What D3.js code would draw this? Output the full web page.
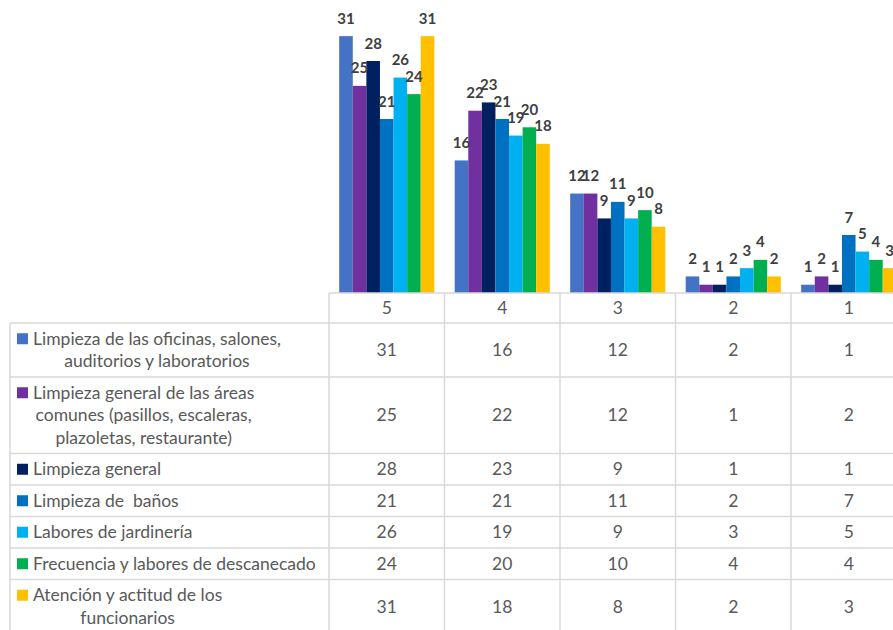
<!DOCTYPE html>
<html>
<head>
<meta charset="utf-8">
<script src="https://cdn.jsdelivr.net/npm/d3@7"></script>
<style>
  body { margin: 0; background: #fff; }
  svg { display: block; font-family: Lato, "Open Sans", sans-serif; }
</style>
</head>
<body>
<div id="chart"></div>
<script>
// categories (rating) and the series shown in the data table
var categories = ["5", "4", "3", "2", "1"];

var seriesLabels = [
  ["Limpieza de las oficinas, salones,", "auditorios y laboratorios"],
  ["Limpieza general de las áreas", "comunes (pasillos, escaleras,", "plazoletas, restaurante)"],
  ["Limpieza general"],
  ["Limpieza de  baños"],
  ["Labores de jardinería"],
  ["Frecuencia y labores de descanecado"],
  ["Atención y actitud de los", "funcionarios"]
];

var oficinas = [31, 16, 12, 2, 1];
var areasComunes = [25, 22, 12, 1, 2];
var limpiezaGeneral = [28, 23, 9, 1, 1];
var banos = [21, 21, 11, 2, 7];
var jardineria = [26, 19, 9, 3, 5];
var descanecado = [24, 20, 10, 4, 4];
var atencion = [31, 18, 8, 2, 3];

var colors = ["#4472C4", "#7030A0", "#002060", "#0070C0", "#00B0F0", "#00B050", "#FFC000"];

var seriesValues = [oficinas, areasComunes, limpiezaGeneral, banos, jardineria, descanecado, atencion];

var w = 893, h = 630;
var tableLeft = 10, labelRight = 329, baseY = 293, colW = 115.5;
var lineH = 22.5;

var svg = d3.select("#chart").append("svg")
  .attr("width", w).attr("height", h);

svg.append("rect").attr("width", w).attr("height", h).attr("fill", "#fff");

var x0 = d3.scaleBand()
  .domain(categories)
  .range([labelRight, labelRight + colW * categories.length])
  .paddingInner(0);

var x1 = d3.scaleBand()
  .domain(d3.range(seriesValues.length))
  .range([0, x0.bandwidth()])
  .paddingOuter(0.75);

var y = d3.scaleLinear().domain([0, 35]).range([baseY, 3]);

// bars
var groups = svg.append("g").selectAll("g")
  .data(categories)
  .join("g")
  .attr("transform", function (c) { return "translate(" + x0(c) + ",0)"; });

groups.selectAll("rect")
  .data(function (c, ci) {
    return seriesValues.map(function (vals, si) { return { s: si, v: vals[ci] }; });
  })
  .join("rect")
  .attr("x", function (d) { return x1(d.s); })
  .attr("y", function (d) { return y(d.v); })
  .attr("width", x1.bandwidth())
  .attr("height", function (d) { return baseY - y(d.v); })
  .attr("fill", function (d) { return colors[d.s]; });

groups.selectAll("text")
  .data(function (c, ci) {
    return seriesValues.map(function (vals, si) { return { s: si, v: vals[ci] }; });
  })
  .join("text")
  .attr("x", function (d) { return x1(d.s) + x1.bandwidth() / 2; })
  .attr("y", function (d) { return y(d.v) - 12.5; })
  .attr("text-anchor", "middle")
  .style("font-size", "15px")
  .style("font-weight", "bold")
  .style("fill", "#404040")
  .text(function (d) { return d.v; });

// data table
var rowH = [30].concat(seriesLabels.map(function (l) { return l.length * lineH + 9; }));
var rowY = [baseY];
rowH.forEach(function (rh, i) { rowY.push(rowY[i] + rh); });

var grid = svg.append("g")
  .attr("stroke", "#d9d9d9")
  .attr("stroke-width", 1.5)
  .attr("fill", "none");

var tableRight = labelRight + colW * categories.length;

// horizontal lines
rowY.forEach(function (ry, i) {
  grid.append("line")
    .attr("x1", i === 0 ? labelRight : tableLeft)
    .attr("x2", tableRight)
    .attr("y1", ry).attr("y2", ry);
});

// vertical lines
grid.append("line")
  .attr("x1", tableLeft).attr("x2", tableLeft)
  .attr("y1", rowY[1]).attr("y2", h + 20);
categories.forEach(function (c) {
  grid.append("line")
    .attr("x1", x0(c)).attr("x2", x0(c))
    .attr("y1", baseY).attr("y2", h + 20);
});

var txt = svg.append("g").style("font-size", "17.5px").style("fill", "#595959");

// header row
txt.selectAll("text.head")
  .data(categories)
  .join("text")
  .attr("class", "head")
  .attr("x", function (c) { return x0(c) + x0.bandwidth() / 2; })
  .attr("y", (rowY[0] + rowY[1]) / 2)
  .attr("dy", "0.35em")
  .attr("text-anchor", "middle")
  .text(function (c) { return c; });

// series rows
seriesLabels.forEach(function (lines, si) {
  var top = rowY[si + 1], bottom = rowY[si + 2];
  var mid = (top + bottom) / 2;
  var firstY = mid - (lines.length - 1) * lineH / 2;

  svg.append("rect")
    .attr("x", 17).attr("y", firstY - 5.5)
    .attr("width", 11).attr("height", 11)
    .attr("fill", colors[si]);

  var tl = txt.append("g");
  var texts = tl.selectAll("text")
    .data(lines)
    .join("text")
    .attr("y", function (d, i) { return firstY + i * lineH; })
    .attr("dy", "0.35em")
    .attr("text-anchor", "middle")
    .style("white-space", "pre")
    .text(function (d) { return d; });

  var maxW = 0;
  texts.each(function () { maxW = Math.max(maxW, this.getComputedTextLength()); });
  texts.attr("x", 33 + maxW / 2);

  txt.append("g").selectAll("text")
    .data(seriesValues[si])
    .join("text")
    .attr("x", function (v, ci) { return x0(categories[ci]) + x0.bandwidth() / 2; })
    .attr("y", mid)
    .attr("dy", "0.35em")
    .attr("text-anchor", "middle")
    .text(function (v) { return v; });
});
</script>
</body>
</html>
